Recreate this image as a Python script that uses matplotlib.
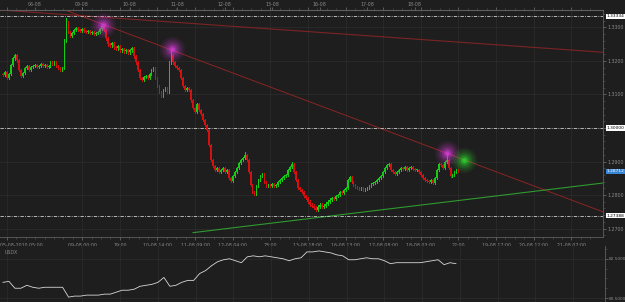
import matplotlib.pyplot as plt
import numpy as np
from matplotlib.ticker import MultipleLocator, FixedLocator
from matplotlib.transforms import ScaledTranslation

# EURUSD hourly closes (bar index 0 = first candle)
closes = [
    1.3158, 1.3167, 1.3149, 1.3161, 1.3188, 1.3208, 1.3217, 1.3202, 1.3173, 1.3155,
    1.3164, 1.3179, 1.3185, 1.3173, 1.3182, 1.3185, 1.3188, 1.3182, 1.3185, 1.3190,
    1.3185, 1.3188, 1.3182, 1.3185, 1.3196, 1.3193, 1.3196, 1.3185, 1.3179, 1.3173,
    1.3179, 1.3262, 1.3315, 1.3286, 1.3274, 1.3283, 1.3292, 1.3298, 1.3292, 1.3289,
    1.3295, 1.3289, 1.3286, 1.3289, 1.3283, 1.3286, 1.3280, 1.3283, 1.3286, 1.3295,
    1.3304, 1.3292, 1.3268, 1.3250, 1.3247, 1.3253, 1.3241, 1.3238, 1.3244, 1.3232,
    1.3235, 1.3229, 1.3232, 1.3226, 1.3232, 1.3238, 1.3214, 1.3196, 1.3173, 1.3149,
    1.3143, 1.3152, 1.3155, 1.3149, 1.3161, 1.3173, 1.3179, 1.3149, 1.3125, 1.3107,
    1.3098, 1.3113, 1.3119, 1.3107, 1.3196, 1.3217, 1.3196, 1.3185, 1.3179, 1.3173,
    1.3149, 1.3125, 1.3113, 1.3119, 1.3113, 1.3083, 1.3060, 1.3048, 1.3071, 1.3054,
    1.3042, 1.3024, 1.3009, 1.2994, 1.2949, 1.2905, 1.2887, 1.2875, 1.2881, 1.2869,
    1.2875, 1.2881, 1.2869, 1.2875, 1.2851, 1.2842, 1.2857, 1.2869, 1.2881, 1.2896,
    1.2905, 1.2911, 1.2920, 1.2905, 1.2869, 1.2830, 1.2809, 1.2803, 1.2827, 1.2845,
    1.2857, 1.2863, 1.2839, 1.2827, 1.2830, 1.2827, 1.2833, 1.2827, 1.2830, 1.2839,
    1.2845, 1.2851, 1.2857, 1.2860, 1.2875, 1.2884, 1.2893, 1.2869, 1.2845, 1.2821,
    1.2815, 1.2809, 1.2797, 1.2791, 1.2780, 1.2771, 1.2768, 1.2762, 1.2756, 1.2765,
    1.2771, 1.2765, 1.2768, 1.2774, 1.2780, 1.2786, 1.2791, 1.2788, 1.2797, 1.2800,
    1.2809, 1.2806, 1.2815, 1.2821, 1.2845, 1.2854, 1.2839, 1.2830, 1.2824, 1.2821,
    1.2818, 1.2821, 1.2815, 1.2818, 1.2821, 1.2827, 1.2833, 1.2836, 1.2839, 1.2845,
    1.2851, 1.2857, 1.2869, 1.2881, 1.2890, 1.2893, 1.2875, 1.2869, 1.2863, 1.2869,
    1.2875, 1.2881, 1.2878, 1.2884, 1.2875, 1.2881, 1.2884, 1.2878, 1.2875, 1.2875,
    1.2869, 1.2860, 1.2851, 1.2845, 1.2842, 1.2839, 1.2845, 1.2836, 1.2851, 1.2875,
    1.2893, 1.2890, 1.2881, 1.2899, 1.2905, 1.2881, 1.2857, 1.2860, 1.2869, 1.2875,
    1.2872,
]
first_open = 1.3160
spike_highs = {32: 1.3327, 50: 1.3310, 85: 1.3232, 122: 1.2929, 146: 1.2899, 224: 1.2926}

# USDX sampled every 3 bars
usdx_step = 3
usdx = [
    81.30, 81.35, 81.00, 81.00, 81.15, 81.05, 81.00, 81.05, 81.05, 81.05,
    81.05, 80.55, 80.60, 80.60, 80.65, 80.65, 80.65, 80.70, 80.70, 80.80,
    80.90, 80.90, 80.95, 81.10, 81.15, 81.20, 81.30, 81.55, 81.10, 81.15,
    81.30, 81.40, 81.40, 81.75, 81.90, 82.15, 82.35, 82.45, 82.50, 82.40,
    82.30, 82.60, 82.65, 82.60, 82.65, 82.60, 82.55, 82.50, 82.40, 82.50,
    82.55, 82.85, 82.85, 82.90, 82.85, 82.80, 82.70, 82.65, 82.45, 82.45,
    82.50, 82.55, 82.50, 82.50, 82.40, 82.25, 82.30, 82.30, 82.30, 82.30,
    82.30, 82.35, 82.40, 82.45, 82.20, 82.30, 82.25,
]

bottom_ticks = [2, 40, 59, 78, 97, 116, 135, 154, 173, 192, 211, 230, 249, 268, 287]
bottom_labels = ['05-08-2010 05:00', '09-08 00:00', '19:00', '10-08 14:00', '11-08 09:00',
                 '12-08 04:00', '23:00', '13-08 18:00', '16-08 13:00', '17-08 08:00',
                 '18-08 03:00', '22:00', '19-08 17:00', '20-08 12:00', '21-08 07:00']
day_ticks = [16, 40, 64, 88, 112, 136, 160, 184, 208]
day_labels = ['06-08', '09-08', '10-08', '11-08', '12-08', '13-08', '16-08', '17-08', '18-08']

price_ticks = [1.27, 1.28, 1.29, 1.30, 1.31, 1.32, 1.33]
levels = [1.33334, 1.30000, 1.27388]
last_price = 1.28712

red_top = ([-1.5, 303], [1.3352, 1.3226])
red_fall = ([31.3, 303], [1.3352, 1.2750])
green_rise = ([96, 303], [1.2688, 1.2836])
magenta_pts = ([50.5, 85.4, 224], [1.3307, 1.3235, 1.2926])
green_pts = ([233], [1.2905])

usdx_ticks = [80.5, 82.5]

BG = '#1e1e1e'
AX = '#5e5e5e'
TXT = '#8a8a8a'
GRID = '#2b2b2b'
FS = 3.4

fig = plt.figure(figsize=(6.25, 3.02), dpi=100, facecolor=BG)
ax = fig.add_axes([0.0, 1 - 237 / 302, 603 / 625, (237 - 10) / 302], facecolor=BG)
ax2 = fig.add_axes([0.0, 0.0, 605 / 625, 1 - 246 / 302], facecolor=BG, sharex=ax)

# candles
closes = np.array(closes)
opens = np.concatenate([[first_open], closes[:-1]])
idx = np.arange(len(closes))
highs = np.maximum(opens, closes) + 0.0004
lows = np.minimum(opens, closes) - 0.0004
for k, v in spike_highs.items():
    highs[k] = v
up = closes >= opens
colors = ['#14cc14' if u else '#d41010' for u in up]
ax.vlines(idx, lows, highs, colors=colors, linewidth=0.6, zorder=3, antialiased=False)
body = np.maximum(np.abs(closes - opens), 0.00015)
ax.bar(idx, body, bottom=np.minimum(opens, closes), width=0.8, color=colors,
       linewidth=0, zorder=4, antialiased=False)

# trend lines
ax.plot(*red_top, color='#7c2424', lw=0.8, zorder=2)
ax.plot(*red_fall, color='#8a2424', lw=0.7, zorder=2)
ax.plot(*green_rise, color='#2f9a2f', lw=0.8, zorder=2)

# level lines
for lv in levels:
    ax.axhline(lv, color='#cfcfcf', lw=0.6, ls=(0, (4, 1.5, 1, 1.5)), zorder=2)

# glows
for pts, col in [(magenta_pts, '#d23cd2'), (green_pts, '#2fd22f')]:
    for s, a in [(330, 0.08), (220, 0.12), (130, 0.18), (65, 0.28), (25, 0.45), (8, 0.7)]:
        ax.scatter(*pts, s=s, color=col, alpha=a, linewidths=0, zorder=6)

ax.set_xlim(-1.5, 303)
ax.set_ylim(1.2675, 1.3352)

# axes styling
for a in (ax, ax2):
    a.spines['left'].set_visible(False)
    for side in ['right', 'top', 'bottom']:
        a.spines[side].set_color(AX)
        a.spines[side].set_linewidth(0.6)
    a.yaxis.tick_right()
    a.tick_params(colors=TXT, labelsize=FS, length=2, width=0.4, pad=1.5)
    a.tick_params(which='minor', colors=AX, length=1.2, width=0.4)
    a.xaxis.set_major_locator(FixedLocator(bottom_ticks))
    a.xaxis.set_minor_locator(FixedLocator(np.arange(2, 300, 4.75)))
    a.grid(True, which='major', color=GRID, lw=0.6)
ax2.spines['top'].set_visible(False)

ax.set_xticks(bottom_ticks)
ax.set_xticklabels(bottom_labels)
ax.tick_params(axis='x', which='both', top=True, pad=2)
labs = ax.get_xticklabels()
labs[0].set_ha('left')
labs[0].set_transform(labs[0].get_transform() + ScaledTranslation(-7 / 100, 0, fig.dpi_scale_trans))

ax.yaxis.set_major_locator(FixedLocator(price_ticks))
ax.yaxis.set_minor_locator(MultipleLocator(0.002))
ax.set_yticklabels(['%.4f' % p for p in price_ticks])

top = ax.secondary_xaxis('top')
top.set_xticks(day_ticks)
top.set_xticklabels(day_labels)
top.tick_params(colors=TXT, labelsize=FS, length=2, width=0.4, pad=0.5)
top.spines['top'].set_color(AX)

# price boxes
ytr = ax.get_yaxis_transform()
for lv in levels:
    ax.text(1.006, lv, '%.5f' % lv, transform=ytr, fontsize=FS - 0.2, color='black',
            va='center', ha='left', clip_on=False, zorder=10,
            bbox=dict(boxstyle='square,pad=0.12', fc='white', ec='none'))
ax.text(1.006, last_price, '%.5f' % last_price, transform=ytr, fontsize=FS - 0.2, color='white',
        va='center', ha='left', clip_on=False, zorder=10,
        bbox=dict(boxstyle='square,pad=0.12', fc='#3a86d6', ec='none'))

# USDX panel
ux = np.arange(len(usdx)) * usdx_step
ax2.plot(ux, usdx, color='#d8d8d8', lw=0.6)
ax2.set_ylim(80.3, 83.15)
ax2.yaxis.set_major_locator(FixedLocator(usdx_ticks))
ax2.yaxis.set_minor_locator(MultipleLocator(0.5))
ax2.set_yticklabels(['%.4f' % u for u in usdx_ticks])
ax2.tick_params(axis='y', labelsize=3.1, pad=1)
ax2.tick_params(axis='x', which='both', bottom=False, labelbottom=False)
ax2.text(0.008, 0.93, 'USDX', transform=ax2.transAxes, fontsize=FS, color=TXT,
         va='top', ha='left')

fig.savefig('out.png', dpi=100, facecolor=BG)
